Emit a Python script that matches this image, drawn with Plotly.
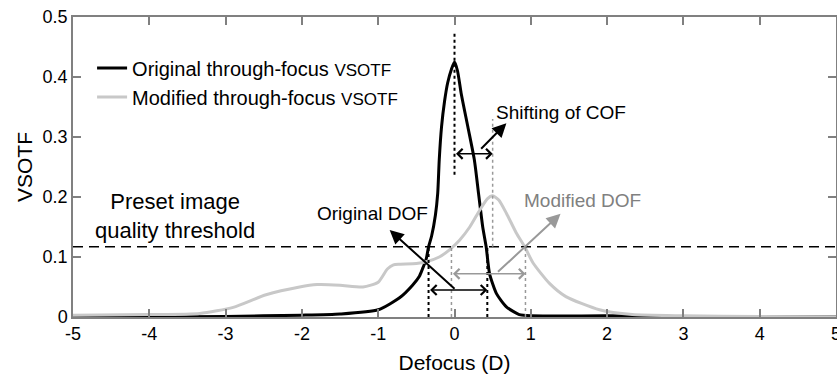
import plotly.graph_objects as go

# ---- data ----
orig_x = [-5, -4, -3, -2, -1.5, -1.0, -0.72, -0.55, -0.46, -0.42, -0.37, -0.34, -0.3, -0.25,
          -0.22, -0.2, -0.17, -0.13, -0.09, -0.04, 0.0, 0.04, 0.087, 0.175, 0.26, 0.315,
          0.37, 0.415, 0.46, 0.55, 0.68, 0.85, 1.0, 2.0, 2.8, 4.0, 5.0]
orig_y = [0.0, 0.0, 0.001, 0.003, 0.005, 0.012, 0.032, 0.053, 0.068, 0.08, 0.097, 0.117, 0.135, 0.17,
          0.206, 0.262, 0.317, 0.36, 0.39, 0.413, 0.425, 0.41, 0.373, 0.317, 0.262, 0.206,
          0.15, 0.117, 0.072, 0.039, 0.017, 0.004, 0.002, 0.002, 0.001, 0.0, 0.0]

mod_x = [-5, -4, -3.34, -2.9, -2.47, -2.03, -1.8, -1.5, -1.2, -1.0, -0.88, -0.8, -0.72, -0.5,
         -0.37, -0.2, -0.066, 0.066, 0.2, 0.33, 0.43, 0.5, 0.58, 0.68, 0.81, 0.92, 1.03,
         1.245, 1.46, 1.9, 2.33, 3.0, 4.0, 5.0]
mod_y = [0.003, 0.004, 0.006, 0.016, 0.037, 0.05, 0.054, 0.053, 0.05, 0.058, 0.08, 0.087, 0.088, 0.089,
         0.092, 0.1, 0.112, 0.128, 0.15, 0.178, 0.197, 0.202, 0.195, 0.173, 0.14, 0.117, 0.09,
         0.056, 0.034, 0.012, 0.004, 0.002, 0.001, 0.0]

threshold = 0.117
orig_cof = 0.0
mod_cof = 0.5
orig_dof = (-0.34, 0.43)
mod_dof = (-0.04, 0.93)

x_ticks = [-5, -4, -3, -2, -1, 0, 1, 2, 3, 4, 5]
y_ticks = [0, 0.1, 0.2, 0.3, 0.4, 0.5]
y_tick_labels = ["0", "0.1", "0.2", "0.3", "0.4", "0.5"]

FONT = "Liberation Sans, Arial, sans-serif"
GRAY_CURVE = "#c8c8c8"
GRAY_ANN = "#999999"

fig = go.Figure()
fig.add_trace(go.Scatter(
    x=orig_x, y=orig_y, mode="lines",
    line=dict(color="black", width=3, shape="spline", smoothing=0.6),
    name="Original through-focus <span style='font-size:17px'>VSOTF</span>"))
fig.add_trace(go.Scatter(
    x=mod_x, y=mod_y, mode="lines",
    line=dict(color=GRAY_CURVE, width=3, shape="spline", smoothing=0.6),
    name="Modified through-focus <span style='font-size:17px'>VSOTF</span>"))

shapes = []
# threshold
shapes.append(dict(type="line", xref="x", yref="y", x0=-5, x1=5, y0=threshold, y1=threshold,
                   line=dict(color="black", width=1.6, dash="10px,6px")))
# COF dotted lines
shapes.append(dict(type="line", xref="x", yref="y", x0=orig_cof, x1=orig_cof, y0=0.237, y1=0.475,
                   line=dict(color="black", width=2, dash="dot")))
shapes.append(dict(type="line", xref="x", yref="y", x0=mod_cof, x1=mod_cof, y0=threshold, y1=0.33,
                   line=dict(color=GRAY_ANN, width=1.5, dash="dot")))
# DOF dotted lines
for xv in orig_dof:
    shapes.append(dict(type="line", xref="x", yref="y", x0=xv, x1=xv, y0=0, y1=threshold,
                       line=dict(color="black", width=2, dash="dot")))
for xv in mod_dof:
    shapes.append(dict(type="line", xref="x", yref="y", x0=xv, x1=xv, y0=0, y1=threshold,
                       line=dict(color=GRAY_ANN, width=1.5, dash="dot")))

anns = []

def dbl_arrow(x0, x1, y, color):
    anns.append(dict(x=x1, y=y, ax=x0, ay=y, xref="x", yref="y", axref="x", ayref="y",
                     text="", showarrow=True, arrowside="end+start", arrowhead=4,
                     arrowsize=1.3, arrowwidth=1.5, arrowcolor=color, standoff=0, startstandoff=0))

def arrow(x0, y0, x1, y1, color):
    anns.append(dict(x=x1, y=y1, ax=x0, ay=y0, xref="x", yref="y", axref="x", ayref="y",
                     text="", showarrow=True, arrowhead=2, arrowsize=1.4, arrowwidth=2,
                     arrowcolor=color, standoff=0))

dbl_arrow(orig_cof, mod_cof, 0.272, "black")
arrow(0.33, 0.278, 0.68, 0.323, "black")
dbl_arrow(orig_dof[0], orig_dof[1], 0.045, "black")
arrow(0.02, 0.045, -0.85, 0.145, "black")
dbl_arrow(mod_dof[0], mod_dof[1], 0.072, GRAY_ANN)
arrow(0.55, 0.073, 1.39, 0.172, GRAY_ANN)

def label(txt, x, y, size, color="black"):
    anns.append(dict(x=x, y=y, xref="x", yref="y", text=txt, showarrow=False,
                     font=dict(family=FONT, size=size, color=color), xanchor="center", yanchor="middle"))

label("Shifting of COF", 1.4, 0.341, 19)
label("Original DOF", -1.07, 0.173, 19)
label("Modified DOF", 1.68, 0.195, 19, "#808080")
label("Preset image<br>quality threshold", -3.66, 0.168, 22)

fig.update_layout(
    width=837, height=375,
    margin=dict(l=73, r=1, t=17, b=58),
    paper_bgcolor="white", plot_bgcolor="white",
    font=dict(family=FONT, size=18, color="black"),
    shapes=shapes, annotations=anns,
    showlegend=True,
    legend=dict(x=0.025, y=0.895, xanchor="left", yanchor="top",
                bgcolor="rgba(0,0,0,0)", font=dict(family=FONT, size=20),
                itemwidth=30, tracegroupgap=0),
)
axis_common = dict(showline=True, linecolor="#808080", linewidth=1.5, mirror="ticks",
                   ticks="inside", ticklen=8, tickwidth=1.5, tickcolor="#808080",
                   showgrid=False, zeroline=False, automargin=False,
                   tickfont=dict(family=FONT, size=18))
fig.update_xaxes(range=[-5, 5], tickvals=x_ticks, ticktext=[str(v) for v in x_ticks],
                 ticklabeloverflow="allow",
                 title=dict(text="Defocus (D)", font=dict(family=FONT, size=21), standoff=12),
                 **axis_common)
fig.update_yaxes(range=[0, 0.5], tickvals=y_ticks, ticktext=y_tick_labels,
                 title=dict(text="VSOTF", font=dict(family=FONT, size=21), standoff=4),
                 **axis_common)

fig.write_html("out.html")
